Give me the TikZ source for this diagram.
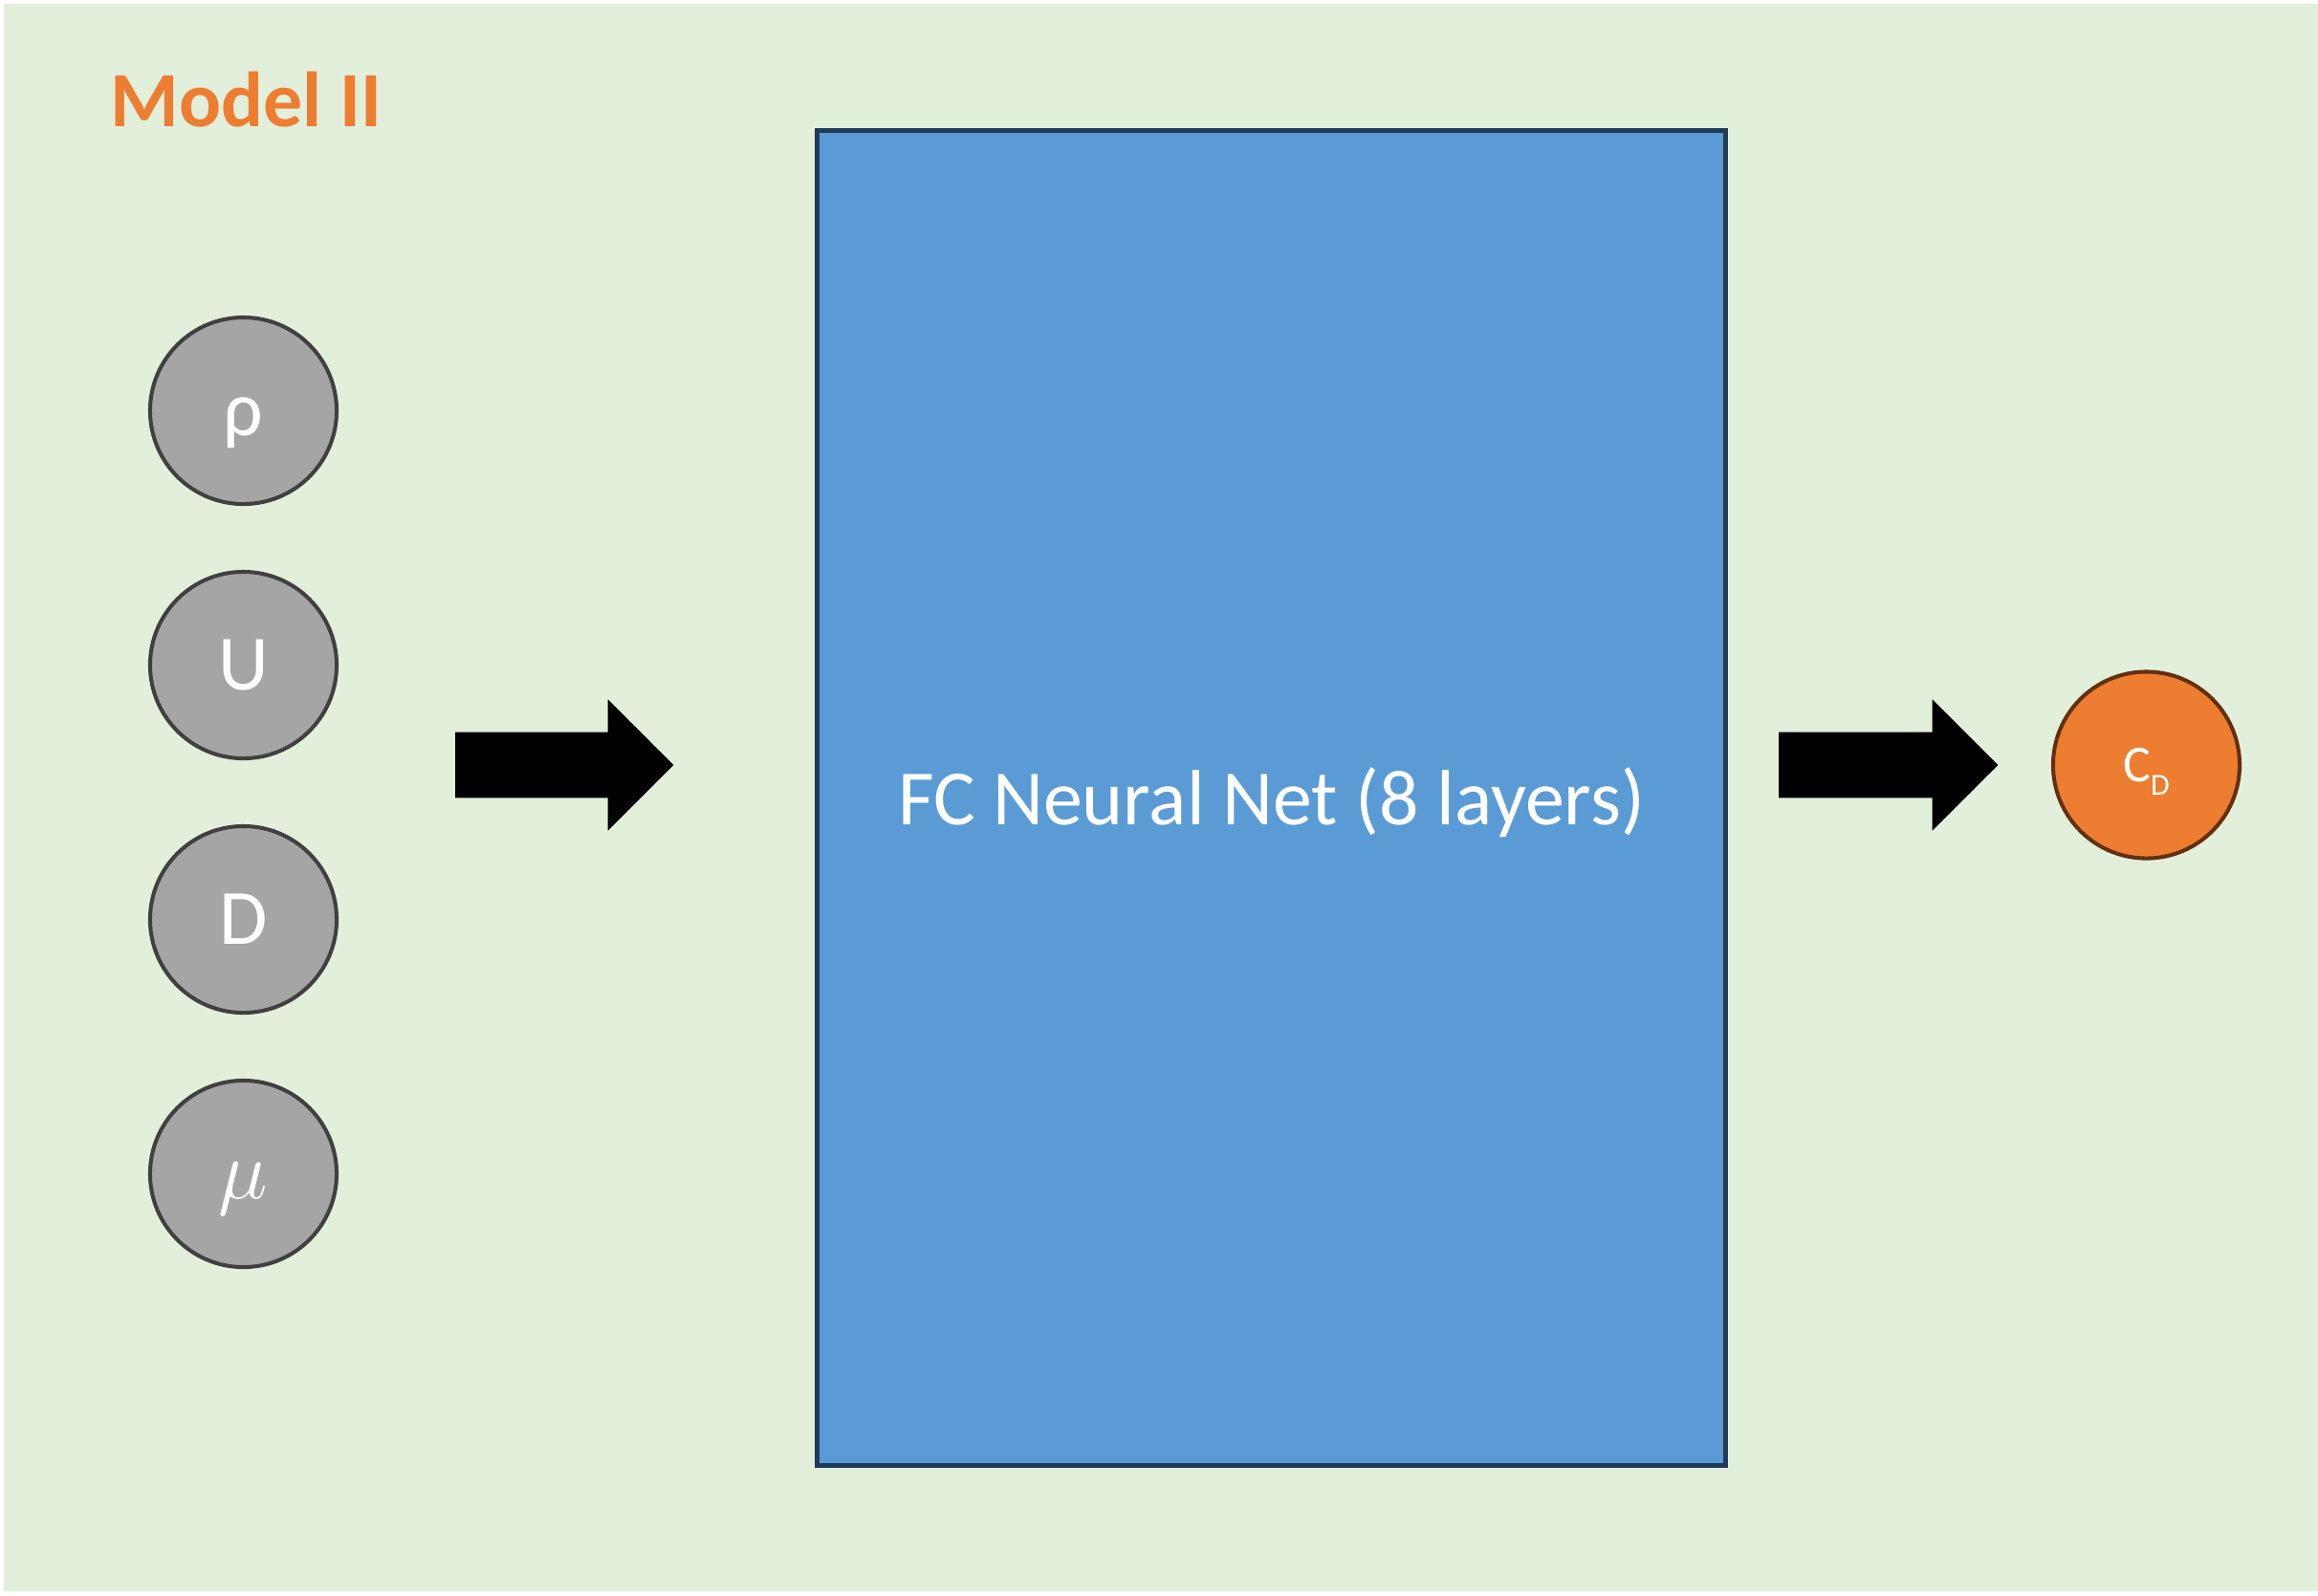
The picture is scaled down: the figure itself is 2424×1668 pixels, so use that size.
\documentclass[tikz,border=0pt]{standalone}
\usepackage{fontspec}
\setmainfont{Carlito}
\usetikzlibrary{calc}
\definecolor{bggreen}{HTML}{E2EFDA}
\definecolor{nodegray}{HTML}{A5A5A5}
\definecolor{graybord}{HTML}{404040}
\definecolor{netblue}{HTML}{5B9BD5}
\definecolor{netbord}{HTML}{203B5A}
\definecolor{outorange}{HTML}{ED7D31}
\definecolor{outbord}{HTML}{62300E}
\tikzset{
  innode/.style={circle, fill=nodegray, draw=graybord, line width=1.15pt, minimum size=1.95cm, inner sep=0pt, text=white, text height=0.52cm, text depth=0pt, font=\fontsize{23.3}{28}\selectfont},
  outnode/.style={circle, fill=outorange, draw=outbord, line width=1.15pt, minimum size=1.95cm, inner sep=0pt, text=white, text height=0.34cm, text depth=0pt, font=\fontsize{15.4}{18}\selectfont},
  netbox/.style={rectangle, fill=netblue, draw=netbord, line width=1.42pt, minimum width=9.5cm, minimum height=13.96cm, inner sep=0pt},
  labeltext/.style={text=white, font=\fontsize{23.3}{28}\selectfont, inner sep=0pt}
}
\begin{document}
\begin{tikzpicture}[x=0.01cm,y=-0.01cm]
\useasboundingbox (0,0) rectangle (2424,1668);
\fill[white] (0,0) rectangle (2424,1668);
\fill[bggreen] (4,4) rectangle (2424,1664);
\node[anchor=base west, inner sep=0pt, text=outorange, font=\bfseries\fontsize{23.3}{28}\selectfont] (title) at (115,132) {Model II};
\node[innode] (rho) at (254.5,429.5) {ρ};
\node[innode] (u) at (254.5,695.5) {U};
\node[innode] (d) at (254.5,961.5) {D};
\node[innode] (mu) at (254.5,1227.5) {$\mu$};
\node[netbox] (net) at (1329.5,834.5) {};
\node[labeltext, anchor=base] (netlabel) at (1329.5,862) {FC Neural Net (8 layers)};
\node[outnode] (cd) at (2244.5,800) {C\raisebox{-4pt}{\fontsize{9.1}{10}\selectfont D}};
\coordinate (a1s) at (476,800);
\coordinate (a1e) at (704.3,800);
\coordinate (a2s) at (1860,800);
\coordinate (a2e) at (2089.3,800);
\foreach \s/\e in {a1s/a1e,a2s/a2e}{
  \fill[black] ($(\s)+(0,-34.3)$) -- ($(\e)+(-68.6,-34.3)$) -- ($(\e)+(-68.6,-68.6)$) -- (\e) -- ($(\e)+(-68.6,68.6)$) -- ($(\e)+(-68.6,34.3)$) -- ($(\s)+(0,34.3)$) -- cycle;
}
\end{tikzpicture}
\end{document}
